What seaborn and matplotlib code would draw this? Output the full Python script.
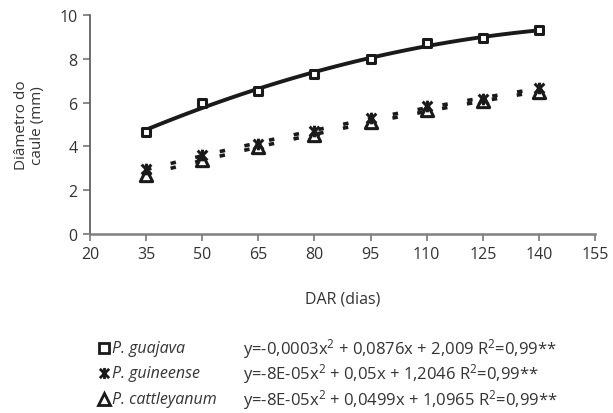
import numpy as np
import pandas as pd
import seaborn as sns
import matplotlib
matplotlib.use("Agg")
import matplotlib.pyplot as plt
from matplotlib.path import Path
from matplotlib.lines import Line2D

# ---- data ----
dar = [35, 50, 65, 80, 95, 110, 125, 140]
guajava = [4.65, 6.0, 6.55, 7.3, 8.0, 8.7, 8.95, 9.3]
guineense = [2.95, 3.6, 4.1, 4.7, 5.3, 5.85, 6.15, 6.65]
cattleyanum = [2.7, 3.4, 3.95, 4.5, 5.1, 5.65, 6.05, 6.5]
species = ["P. guajava", "P. guineense", "P. cattleyanum"]
equations = [
    "y=-0,0003x$^2$ + 0,0876x + 2,009 R$^2$=0,99**",
    "y=-8E-05x$^2$ + 0,05x + 1,2046 R$^2$=0,99**",
    "y=-8E-05x$^2$ + 0,0499x + 1,0965 R$^2$=0,99**",
]
xticks = [20, 35, 50, 65, 80, 95, 110, 125, 140, 155]
yticks = [0, 2, 4, 6, 8, 10]

sns.set_theme(style="white")
plt.rcParams["font.family"] = ["Open Sans", "DejaVu Sans"]
plt.rcParams["mathtext.default"] = "regular"

star = Path([(-1, -1), (1, 1), (-1, 1), (1, -1), (0, -1.2), (0, 1.2)],
            [Path.MOVETO, Path.LINETO, Path.MOVETO, Path.LINETO, Path.MOVETO, Path.LINETO])

fig = plt.figure(figsize=(6.13, 4.14), dpi=100)
ax = fig.add_axes([0.1468, 0.4324, 0.9706 - 0.1468, 0.9614 - 0.4324])

df = pd.DataFrame({"DAR": dar, "guajava": guajava, "guineense": guineense,
                   "cattleyanum": cattleyanum})

ink = "#1a1a1a"
# trend lines
sns.regplot(data=df, x="DAR", y="guajava", order=2, ci=None, scatter=False, ax=ax,
            truncate=True, line_kws=dict(color=ink, lw=2.8, solid_capstyle="butt"))
for col in ["guineense", "cattleyanum"]:
    sns.regplot(data=df, x="DAR", y=col, order=2, ci=None, scatter=False, ax=ax,
                truncate=True, line_kws=dict(color=ink, lw=2.6, linestyle=(0, (1.5, 5.5))))

markers = {"guajava": "s", "guineense": star, "cattleyanum": "^"}
sizes = {"guajava": 40, "guineense": 70, "cattleyanum": 78}
for col in ["cattleyanum", "guineense", "guajava"]:
    sns.scatterplot(data=df, x="DAR", y=col, marker=markers[col], s=sizes[col],
                    facecolor="white" if col != "guineense" else ink,
                    edgecolor=ink, linewidth=2.2, ax=ax, zorder=5)

ax.set_xlim(20, 155)
ax.set_ylim(0, 10)
ax.set_xticks(xticks)
ax.set_yticks(yticks)
ax.tick_params(axis="both", labelsize=11.5, labelcolor="#333333", colors="#777777",
               length=5, width=1.2, direction="out", bottom=True, left=True, pad=4)
for s in ["top", "right"]:
    ax.spines[s].set_visible(False)
ax.spines["left"].set_color("#555555")
ax.spines["left"].set_linewidth(1.2)
ax.spines["bottom"].set_color("#808080")
ax.spines["bottom"].set_linewidth(1.8)
ax.set_xlabel("DAR (dias)", fontsize=11.5, color="#333333", labelpad=20)
ax.set_ylabel("Diâmetro do\ncaule (mm)", fontsize=11, color="#333333", labelpad=10,
              linespacing=1.15)
ax.grid(False)

# legend at the bottom
rows_y = [1 - 349 / 414, 1 - 374 / 414, 1 - 400 / 414]
leg_markers = ["s", star, "^"]
leg_fill = ["white", ink, "white"]
leg_size = [7, 8, 9]
for yy, name, eq, mk, fc, ms in zip(rows_y, species, equations, leg_markers, leg_fill, leg_size):
    fig.add_artist(Line2D([104 / 613], [yy], transform=fig.transFigure, marker=mk,
                          markersize=ms, markerfacecolor=fc, markeredgecolor=ink,
                          markeredgewidth=2.0, linestyle="none"))
    fig.text(112 / 613, yy, name, style="italic", fontsize=11.5, color="#333333",
             va="center", ha="left")
    fig.text(243 / 613, yy, eq, fontsize=12, color="#333333", va="center", ha="left")

fig.savefig("out.png", dpi=100)
